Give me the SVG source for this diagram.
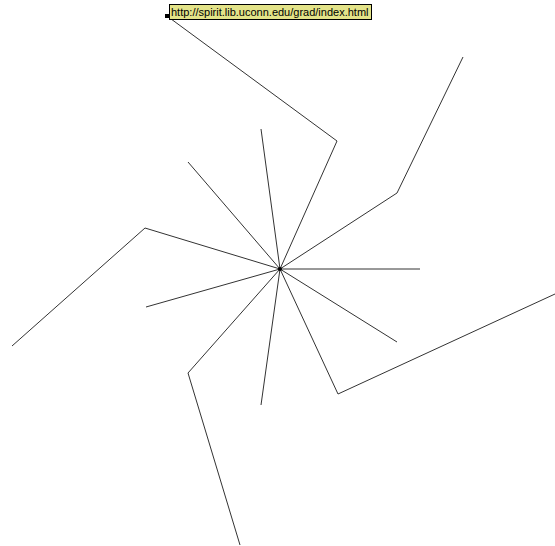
<svg xmlns="http://www.w3.org/2000/svg" width="555" height="546" viewBox="0 0 555 546">
<style>
.e{stroke:#333;stroke-width:1;fill:none}
.lbl{font-family:"Liberation Sans",Arial,sans-serif;font-size:11px;fill:#000}
</style>
<rect width="555" height="546" fill="#fff"/>
<g id="connectors">
<line class="e" x1="280" y1="269" x2="337" y2="141"/>
<line class="e" x1="337" y1="141" x2="167" y2="16"/>
<line class="e" x1="280" y1="269" x2="397" y2="193"/>
<line class="e" x1="397" y1="193" x2="463" y2="57"/>
<line class="e" x1="280" y1="269" x2="145" y2="228"/>
<line class="e" x1="145" y1="228" x2="12" y2="346"/>
<line class="e" x1="280" y1="269" x2="188" y2="373"/>
<line class="e" x1="188" y1="373" x2="240" y2="545"/>
<line class="e" x1="280" y1="269" x2="338" y2="394"/>
<line class="e" x1="338" y1="394" x2="555" y2="294"/>
<line class="e" x1="280" y1="269" x2="261" y2="129"/>
<line class="e" x1="280" y1="269" x2="188" y2="162"/>
<line class="e" x1="280" y1="269" x2="420" y2="269"/>
<line class="e" x1="280" y1="269" x2="146" y2="307"/>
<line class="e" x1="280" y1="269" x2="397" y2="342"/>
<line class="e" x1="280" y1="269" x2="261" y2="405"/>
</g>
<g id="center"><circle cx="280" cy="269" r="2" fill="#000"/></g>
<g id="node-url">
<rect x="165" y="14" width="4" height="4" fill="#000"/>
<rect x="169.5" y="4.5" width="202" height="15" fill="#e3e388" stroke="#000" stroke-width="1"/>
<text class="lbl" x="171" y="16">http://spirit.lib.uconn.edu/grad/index.html</text>
</g>
</svg>
